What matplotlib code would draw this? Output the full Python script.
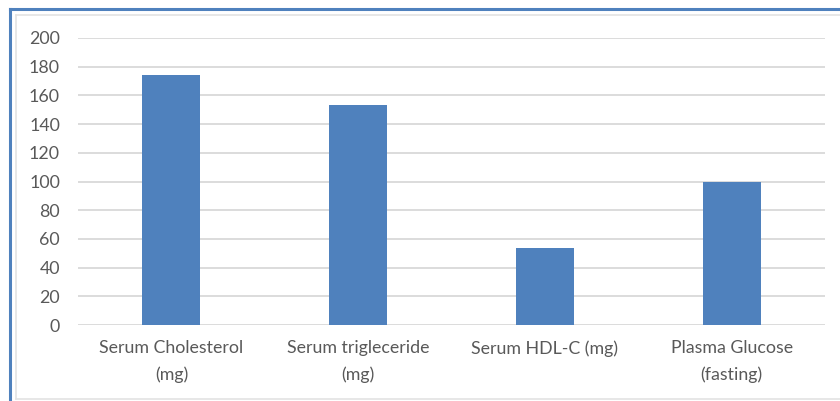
import matplotlib
matplotlib.use("Agg")
import matplotlib.pyplot as plt
from matplotlib.lines import Line2D
import numpy as np

categories = ["Serum Cholesterol\n(mg)", "Serum trigleceride\n(mg)", "Serum HDL-C (mg)", "Plasma Glucose\n(fasting)"]
values = [174, 153, 54, 100]
yticks = [0, 20, 40, 60, 80, 100, 120, 140, 160, 180, 200]

W, H = 840, 401
fig = plt.figure(figsize=(W / 100, H / 100), dpi=100)
plt.rcParams['font.family'] = ['Lato', 'DejaVu Sans']

ax = fig.add_axes([78 / W, 1 - 325 / H, (825 - 78) / W, (325 - 38) / H])
x = np.arange(len(categories))
ax.bar(x, values, width=0.31, color="#4F81BD", zorder=3)
ax.set_xlim(-0.5, len(categories) - 0.5)
ax.set_ylim(0, 200)
ax.set_yticks(yticks)
ax.set_yticklabels([str(t) for t in yticks])
ax.set_xticks(x)
ax.set_xticklabels(categories, linespacing=1.75)
ax.grid(axis="y", color="#D9D9D9", linewidth=1.3, zorder=0)
for s in ax.spines.values():
    s.set_visible(False)
ax.tick_params(axis="both", length=0, colors="#595959", labelsize=12.8)
ax.tick_params(axis="y", pad=13)
ax.tick_params(axis="x", pad=11)

# chart border lines
fig.add_artist(Line2D([10 / W, 10 / W], [0, 1 - 9 / H], color="#4F81BD", lw=2.2, transform=fig.transFigure))
fig.add_artist(Line2D([10 / W, 1], [1 - 9 / H, 1 - 9 / H], color="#4F81BD", lw=2.2, transform=fig.transFigure))
fig.add_artist(Line2D([16 / W, 16 / W], [1 - 399 / H, 1 - 15 / H], color="#E3E3E3", lw=1.2, transform=fig.transFigure))
fig.add_artist(Line2D([16 / W, 1], [1 - 15 / H, 1 - 15 / H], color="#E3E3E3", lw=1.2, transform=fig.transFigure))
fig.add_artist(Line2D([16 / W, 1], [1 - 399 / H, 1 - 399 / H], color="#E3E3E3", lw=1.2, transform=fig.transFigure))

fig.savefig("out.png", dpi=100)
